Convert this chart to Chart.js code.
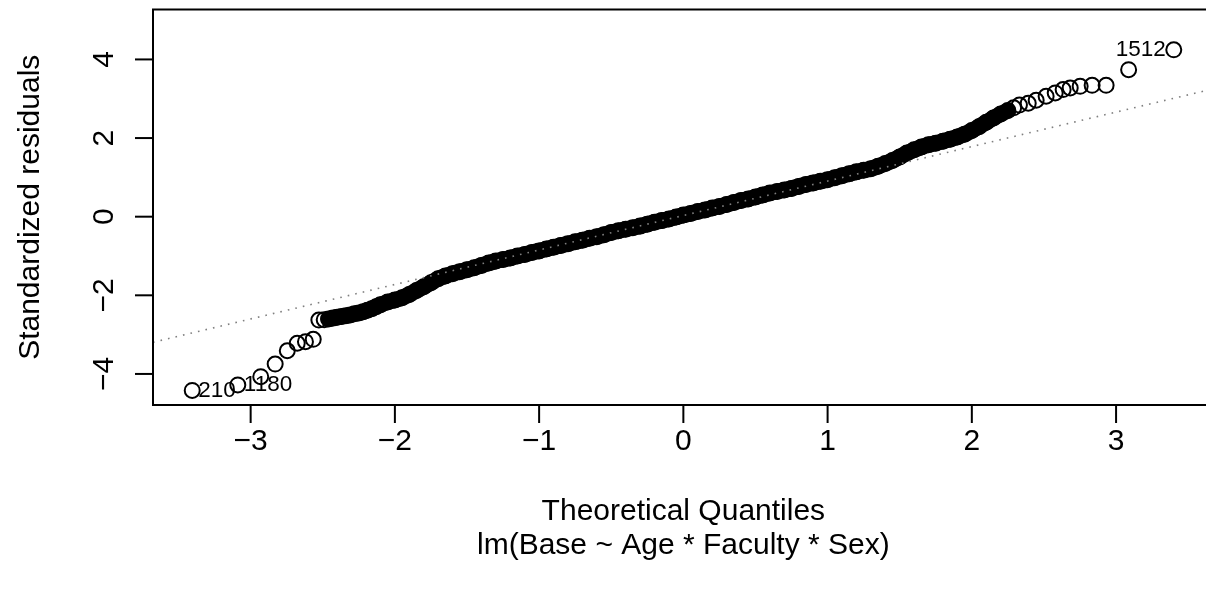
<!DOCTYPE html>
<html><head><meta charset="utf-8">
<script src="https://cdn.jsdelivr.net/npm/chart.js@4/dist/chart.umd.min.js"></script>
<style>
html,body{margin:0;padding:0;background:#fff;overflow:hidden;width:1206px;height:591px}
#wrap{position:absolute;left:0;top:0;width:1230px;height:591px}
</style>
</head><body><div id="wrap"><canvas id="c" width="1230" height="591"></canvas></div>
<script>
// Theoretical quantiles (x) and standardized residuals (y)
const quantiles = [
 -3.405,-3.089,-2.93,-2.83,-2.746,-2.677,-2.62,-2.566,
 -2.527,-2.49,-2.46,-2.43,-2.40,-2.37,-2.34,-2.31,-2.28,-2.25,-2.22,-2.19,-2.16,-2.13,-2.10,
 -2.05,-2.00,-1.95,-1.90,-1.85,-1.80,-1.75,-1.70,-1.65,-1.60,-1.55,-1.50,-1.45,-1.40,-1.35,-1.30,
 -1.25,-1.20,-1.15,-1.10,-1.05,-1.00,-0.95,-0.90,-0.85,-0.80,-0.75,-0.70,-0.65,-0.60,-0.55,-0.50,
 -0.45,-0.40,-0.35,-0.30,-0.25,-0.20,-0.15,-0.10,-0.05,0.00,0.05,0.10,0.15,0.20,0.25,0.30,0.35,
 0.40,0.45,0.50,0.55,0.60,0.65,0.70,0.75,0.80,0.85,0.90,0.95,1.00,1.05,1.10,1.15,1.20,1.25,1.30,
 1.35,1.40,1.45,1.50,1.55,1.60,1.65,1.70,1.75,1.80,1.85,1.90,1.95,2.00,2.05,2.10,2.15,2.20,2.25,
 2.29,2.33,2.391,2.446,2.515,2.578,2.633,2.682,2.751,2.834,2.931,3.087,3.40
];
const residuals = [
 -4.42,-4.28,-4.07,-3.75,-3.41,-3.22,-3.18,-3.12,
 -2.63,-2.62,-2.60,-2.58,-2.56,-2.54,-2.52,-2.50,-2.47,-2.45,-2.42,-2.38,-2.34,-2.29,-2.24,
 -2.17,-2.12,-2.06,-1.98,-1.88,-1.78,-1.68,-1.58,-1.51,-1.45,-1.40,-1.35,-1.30,-1.24,-1.18,-1.13,
 -1.09,-1.05,-1.00,-0.96,-0.91,-0.87,-0.82,-0.78,-0.73,-0.69,-0.64,-0.60,-0.55,-0.51,-0.46,-0.40,
 -0.36,-0.32,-0.28,-0.24,-0.19,-0.14,-0.10,-0.06,-0.01,0.04,0.08,0.13,0.17,0.22,0.26,0.31,0.36,
 0.41,0.45,0.50,0.55,0.60,0.64,0.68,0.72,0.77,0.82,0.86,0.90,0.94,0.99,1.04,1.09,1.14,1.18,1.22,
 1.28,1.35,1.43,1.52,1.62,1.70,1.77,1.83,1.87,1.92,1.97,2.03,2.10,2.19,2.29,2.40,2.51,2.61,2.70,
 2.77,2.84,2.886,2.962,3.063,3.147,3.233,3.273,3.316,3.342,3.342,3.74,4.245
];
// dense stretch where circles overlap into a solid band
const bandFromQ = -2.46;
const bandToQ = 2.25;
// reference (qq) line through the quartiles, read at its two ends
const qqlineX = [-3.677, 3.672];
const qqlineY = [-3.195, 3.25];
// identified points (indices into the arrays above)
const idPoints = [0, 1, 122];
const idLabels = ['210', '1180', '1512'];
// axes
const xRange = [-3.677, 3.672];
const yRange = [-4.79, 5.27];
const xTicks = [-3, -2, -1, 0, 1, 2, 3];
const yTicks = [-4, -2, 0, 2, 4];
const xTitle = 'Theoretical Quantiles';
const subTitle = 'lm(Base ~ Age * Faculty * Sex)';
const yTitle = 'Standardized residuals';

const FONT = '"Liberation Sans", Arial, Helvetica, sans-serif';
const fmt = v => (v < 0 ? '\u2212' + Math.abs(v) : String(v));

const pts = quantiles.map((q, i) => ({x: q, y: residuals[i]}));
const band = pts.filter(p => p.x >= bandFromQ && p.x <= bandToQ);
const qqline = qqlineX.map((q, i) => ({x: q, y: qqlineY[i]}));

const rPlot = {
  id: 'rPlot',
  afterDraw(chart) {
    const ctx = chart.ctx, ca = chart.chartArea;
    const xs = chart.scales.x, ys = chart.scales.y;
    ctx.save();
    ctx.strokeStyle = '#000'; ctx.fillStyle = '#000'; ctx.lineWidth = 2;
    ctx.strokeRect(ca.left, ca.top, ca.right - ca.left, ca.bottom - ca.top);
    ctx.font = '30px ' + FONT;
    // x axis
    ctx.textAlign = 'center'; ctx.textBaseline = 'middle';
    xTicks.forEach(v => {
      const p = xs.getPixelForValue(v);
      ctx.beginPath(); ctx.moveTo(p, ca.bottom); ctx.lineTo(p, ca.bottom + 18); ctx.stroke();
      ctx.fillText(fmt(v), p, ca.bottom + 37);
    });
    ctx.fillText(xTitle, (xs.getPixelForValue(0)), ca.bottom + 107);
    ctx.fillText(subTitle, (xs.getPixelForValue(0)), ca.bottom + 141);
    // y axis
    yTicks.forEach(v => {
      const p = ys.getPixelForValue(v);
      ctx.beginPath(); ctx.moveTo(ca.left - 18, p); ctx.lineTo(ca.left, p); ctx.stroke();
      ctx.save(); ctx.translate(ca.left - 40, p); ctx.rotate(-Math.PI / 2);
      ctx.textAlign = 'center'; ctx.textBaseline = 'alphabetic';
      ctx.fillText(fmt(v), 0, 0); ctx.restore();
    });
    ctx.save(); ctx.translate(ca.left - 114, (ca.top + ca.bottom) / 2); ctx.rotate(-Math.PI / 2);
    ctx.textAlign = 'center'; ctx.textBaseline = 'alphabetic';
    ctx.fillText(yTitle, 0, 0); ctx.restore();
    // point labels
    ctx.font = '22.5px ' + FONT; ctx.textBaseline = 'middle';
    const mid = (xRange[0] + xRange[1]) / 2;
    idPoints.forEach((idx, k) => {
      const px = xs.getPixelForValue(quantiles[idx]);
      const py = ys.getPixelForValue(residuals[idx]);
      if (quantiles[idx] < mid) { ctx.textAlign = 'left'; ctx.fillText(idLabels[k], px + 6, py); }
      else { ctx.textAlign = 'right'; ctx.fillText(idLabels[k], px - 8, py); }
    });
    ctx.restore();
  }
};

new Chart(document.getElementById('c'), {
  type: 'scatter',
  data: {
    datasets: [
      {
        type: 'line', data: qqline, order: 0,
        borderColor: '#7f7f7f', borderWidth: 1.6, borderDash: [1.6, 6.1],
        pointRadius: 0, fill: false, tension: 0
      },
      {
        data: pts, order: 1, showLine: false,
        pointStyle: 'circle', pointRadius: 7.5, pointBorderWidth: 2,
        pointBorderColor: '#000', pointBackgroundColor: 'rgba(0,0,0,0)'
      },
      {
        type: 'line', data: band, order: 2,
        borderColor: '#000', borderWidth: 16, pointRadius: 0, fill: false,
        tension: 0.3, borderCapStyle: 'round', borderJoinStyle: 'round'
      }
    ]
  },
  options: {
    responsive: false, animation: false, devicePixelRatio: 1,
    layout: {padding: {left: 153, top: 8, right: 17, bottom: 186}},
    plugins: {legend: {display: false}, tooltip: {enabled: false}},
    events: [],
    scales: {
      x: {type: 'linear', display: false, min: xRange[0], max: xRange[1]},
      y: {type: 'linear', display: false, min: yRange[0], max: yRange[1]}
    }
  },
  plugins: [rPlot]
});
</script>
</body></html>
